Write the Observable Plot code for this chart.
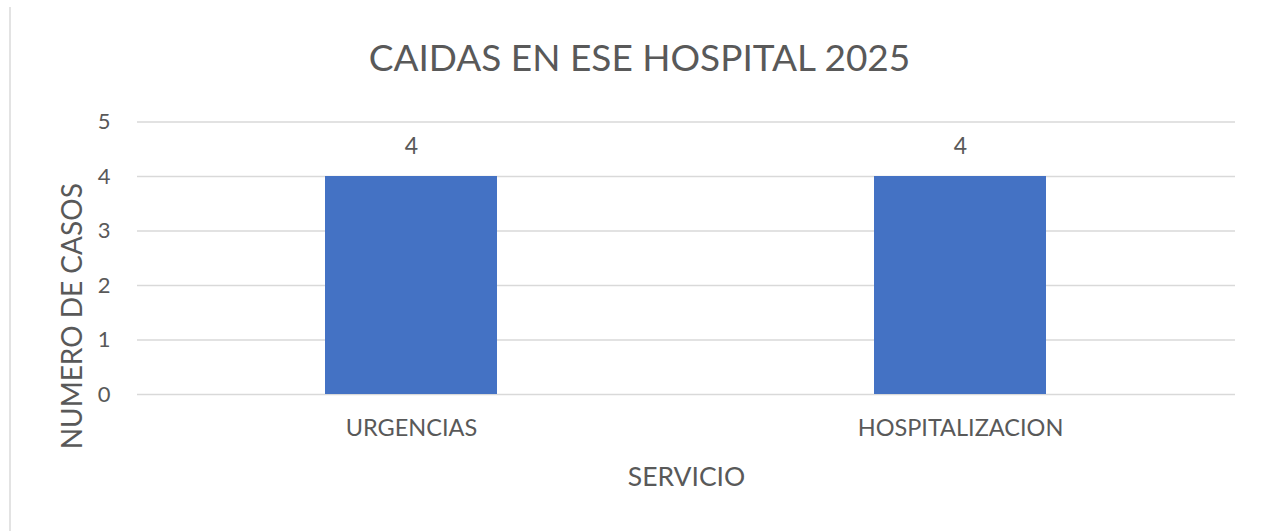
<!DOCTYPE html>
<html>
<head>
<meta charset="utf-8">
<script src="https://cdn.jsdelivr.net/npm/d3@7"></script>
<script src="https://cdn.jsdelivr.net/npm/@observablehq/plot@0.6"></script>
<style>
  html, body { margin: 0; padding: 0; background: #fff; }
  #wrap { position: relative; width: 1265px; height: 531px; overflow: hidden; }
  #border { position: absolute; left: 9px; top: 7px; width: 2px; height: 530px; background: #e3e3e3; }
  #chart { position: absolute; left: 0; top: 0; }
</style>
</head>
<body>
<div id="wrap"><div id="border"></div><div id="chart"></div></div>
<script>
const categories = ["URGENCIAS", "HOSPITALIZACION"];
const values = [4, 4];
const yTicks = [0, 1, 2, 3, 4, 5];
const titleText = "CAIDAS EN ESE HOSPITAL 2025";
const xLabel = "SERVICIO";
const yLabel = "NUMERO DE CASOS";

const data = categories.map((c, i) => ({ servicio: c, casos: values[i] }));
const FONT = "Lato, 'Open Sans', sans-serif";
const GRAY = "#595959";

const chart = Plot.plot({
  width: 1265,
  height: 531,
  marginLeft: 137,
  marginRight: 30,
  marginTop: 121.5,
  marginBottom: 137,
  style: { fontFamily: FONT, color: GRAY, background: "transparent" },
  x: { domain: categories, paddingInner: 0.686, paddingOuter: 0.343, label: null },
  y: { domain: [0, 5], ticks: yTicks, label: null },
  marks: [
    Plot.gridY(yTicks, { stroke: "#d9d9d9", strokeOpacity: 1, strokeWidth: 1.5 }),
    Plot.barY(data, { x: "servicio", y: "casos", fill: "#4472C4" }),
    Plot.text(data, { x: "servicio", y: "casos", text: d => String(d.casos), dy: -30, fontSize: 23, fill: GRAY }),
    Plot.axisY({ ticks: yTicks, tickFormat: d3.format("d"), tickSize: 0, tickPadding: 27, fontSize: 22, label: null, fill: GRAY }),
    Plot.axisX({ tickSize: 0, tickPadding: 25, fontSize: 23.5, label: null, fill: GRAY }),
    Plot.text([titleText], { frameAnchor: "top-left", dx: 502, dy: -63, textAnchor: "middle", lineAnchor: "middle", fontSize: 37, fill: GRAY }),
    Plot.text([xLabel], { frameAnchor: "bottom", dy: 83, lineAnchor: "middle", fontSize: 26.5, fill: GRAY }),
    Plot.text([yLabel], { frameAnchor: "left", dx: -64, dy: 58, textAnchor: "middle", lineAnchor: "middle", rotate: -90, fontSize: 28, fill: GRAY })
  ]
});
document.getElementById("chart").appendChild(chart);
</script>
</body>
</html>
